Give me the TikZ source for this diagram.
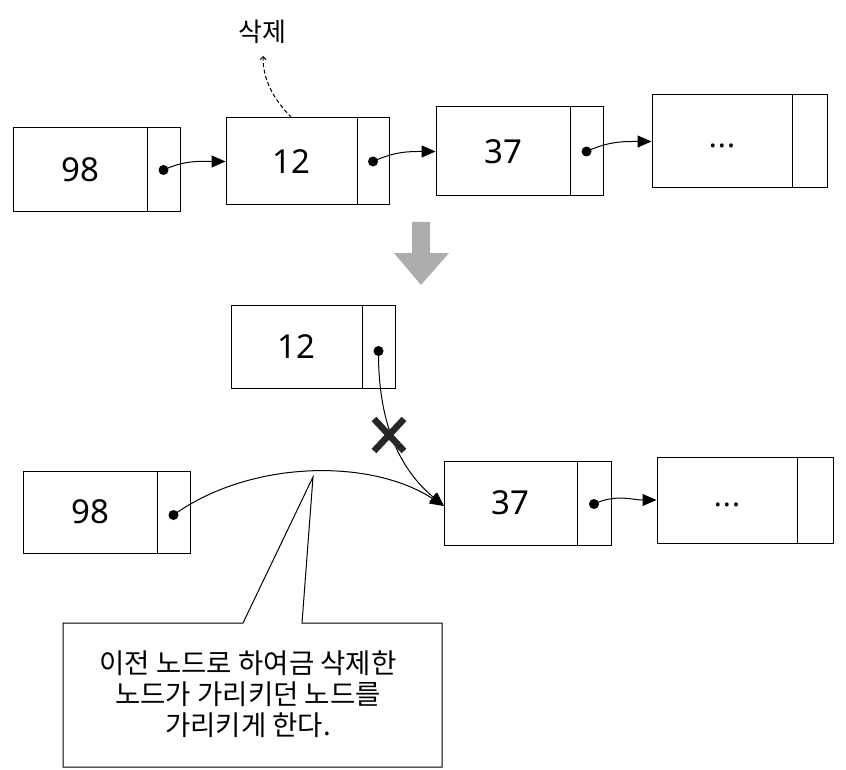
\documentclass[tikz,border=0pt]{standalone}
\usepackage{fontspec}
\newfontfamily\krf{Noto Sans CJK KR}
\newfontfamily\numf{Noto Sans}
\usetikzlibrary{arrows.meta}
\tikzset{
  data/.style={draw, line width=1pt, inner sep=0pt, font=\numf\fontsize{33}{33}\selectfont},
  ptrbox/.style={draw, line width=1pt, inner sep=0pt},
  dotn/.style={circle, fill=black, inner sep=0pt, minimum size=10pt},
  link/.style={line width=1pt, -{Triangle[length=14pt,width=12pt]}},
  nodelabel/.style={font=\krf\fontsize{27.5}{31}\selectfont, align=center, inner sep=0pt},
  xstroke/.style={line width=6.5pt, black!85},
}
\newcommand{\ellip}{\raisebox{-15pt}[0pt][0pt]{\fontsize{30}{30}\selectfont\numf ·\kern1pt·\kern1pt·}}
\begin{document}
\begin{tikzpicture}[x=1pt,y=-1pt]
\useasboundingbox (0,0) rectangle (846,770);
% ---------- top row ----------
\node[data, minimum width=134pt, minimum height=84pt] (t98) at (80,170) {98};
\node[ptrbox, minimum width=33pt, minimum height=84pt] (t98p) at (163.5,170) {};
\node[data, minimum width=131pt, minimum height=87pt] (t12) at (291.5,161.5) {12};
\node[ptrbox, minimum width=32pt, minimum height=87pt] (t12p) at (373,161.5) {};
\node[data, minimum width=134pt, minimum height=89pt] (t37) at (503,151.5) {37};
\node[ptrbox, minimum width=33pt, minimum height=89pt] (t37p) at (586.5,151.5) {};
\node[data, minimum width=140pt, minimum height=93pt] (tdd) at (722,141.5) {\ellip};
\node[ptrbox, minimum width=35pt, minimum height=93pt] (tddp) at (809.5,141.5) {};
\node[dotn] (td1) at (163.5,170) {};
\node[dotn] (td2) at (373,161.5) {};
\node[dotn] (td3) at (586.5,151.5) {};
\draw[link] (td1.center) to[out=25,in=180] (t12.west);
\draw[link] (td2.center) to[out=25,in=180] (t37.west);
\draw[link] (td3.center) to[out=25,in=180] (tdd.west);
% delete label
\node[nodelabel, font=\krf\fontsize{26}{26}\selectfont] (del) at (262,32) {삭제};
\coordinate (delend) at (263,56);
\draw[line width=1pt, dashed, dash pattern=on 4pt off 2.5pt, -{Straight Barb[length=3pt,width=6pt]}]
  (t12.north) .. controls (272,98) and (263,78) .. (delend);
% ---------- gray arrow ----------
\fill[black!32] (412,222) -- (430,222) -- (430,253) -- (449,253) -- (421,285) -- (394,253) -- (412,253) -- cycle;
% ---------- bottom ----------
\node[data, minimum width=131pt, minimum height=83pt] (b12) at (296.5,346.5) {12};
\node[ptrbox, minimum width=33pt, minimum height=83pt] (b12p) at (378.5,346.5) {};
\node[data, minimum width=134pt, minimum height=82pt] (b98) at (90,512) {98};
\node[ptrbox, minimum width=33pt, minimum height=82pt] (b98p) at (173.5,512) {};
\node[data, minimum width=133pt, minimum height=84pt] (b37) at (510.5,503) {37};
\node[ptrbox, minimum width=34pt, minimum height=84pt] (b37p) at (594,503) {};
\node[data, minimum width=140pt, minimum height=86pt] (bdd) at (727,500) {\ellip};
\node[ptrbox, minimum width=36pt, minimum height=86pt] (bddp) at (815,500) {};
\node[dotn] (bd12) at (378.5,351) {};
\node[dotn] (bd98) at (173.5,515) {};
\node[dotn] (bd37) at (594,504) {};
\coordinate (b37in) at (444,506);
\draw[link] (bd98.center) .. controls (250,460) and (370,458) .. (b37in);
\draw[link] (bd12.center) .. controls (378,420) and (398,468) .. (b37in);
\draw[link] (bd37.center) to[out=25,in=180] (bdd.west);
% X mark
\coordinate (xa) at (374,419);
\coordinate (xb) at (404,451);
\coordinate (xc) at (404,419);
\coordinate (xd) at (374,451);
\draw[xstroke] (xa) -- (xb);
\draw[xstroke] (xc) -- (xd);
% ---------- callout ----------
\coordinate (ctip) at (313,477);
\draw[line width=1pt, fill=white] (63,623) -- (243,623) -- (ctip) -- (302,623) -- (442,623) -- (442,767) -- (63,767) -- cycle;
\node[nodelabel] (note) at (248,694) {이전 노드로 하여금 삭제한\\노드가 가리키던 노드를\\가리키게 한다.};
\end{tikzpicture}
\end{document}
